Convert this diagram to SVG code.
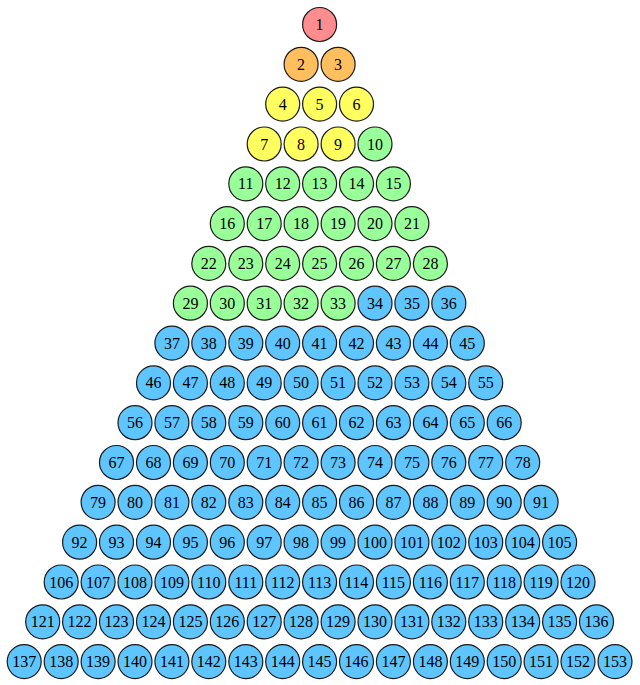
<svg xmlns="http://www.w3.org/2000/svg" width="640" height="685" viewBox="0 0 640 685">
<style>
.n circle{stroke:#1a1a1a;stroke-width:1.2}
.n text{font-family:"Liberation Serif","Times New Roman",serif;font-size:16px;text-anchor:middle;fill:#000}
.r circle{fill:#ff8c8f}
.o circle{fill:#ffbf5f}
.y circle{fill:#ffff5f}
.g circle{fill:#99ff99}
.b circle{fill:#5fc5ff}
</style>
<rect width="640" height="685" fill="#fff"/>
<g id="connectors"/>
<g id="nodes">
<g id="n1" class="n r" transform="translate(319.6,24.5)"><circle r="17"/><text y="5.5">1</text></g>
<g id="n2" class="n o" transform="translate(301.1,64.3)"><circle r="17"/><text y="5.5">2</text></g>
<g id="n3" class="n o" transform="translate(338.1,64.3)"><circle r="17"/><text y="5.5">3</text></g>
<g id="n4" class="n y" transform="translate(282.7,104.1)"><circle r="17"/><text y="5.5">4</text></g>
<g id="n5" class="n y" transform="translate(319.6,104.1)"><circle r="17"/><text y="5.5">5</text></g>
<g id="n6" class="n y" transform="translate(356.5,104.1)"><circle r="17"/><text y="5.5">6</text></g>
<g id="n7" class="n y" transform="translate(264.2,144)"><circle r="17"/><text y="5.5">7</text></g>
<g id="n8" class="n y" transform="translate(301.1,144)"><circle r="17"/><text y="5.5">8</text></g>
<g id="n9" class="n y" transform="translate(338.1,144)"><circle r="17"/><text y="5.5">9</text></g>
<g id="n10" class="n g" transform="translate(375,144)"><circle r="17"/><text y="5.5">10</text></g>
<g id="n11" class="n g" transform="translate(245.8,183.8)"><circle r="17"/><text y="5.5">11</text></g>
<g id="n12" class="n g" transform="translate(282.7,183.8)"><circle r="17"/><text y="5.5">12</text></g>
<g id="n13" class="n g" transform="translate(319.6,183.8)"><circle r="17"/><text y="5.5">13</text></g>
<g id="n14" class="n g" transform="translate(356.5,183.8)"><circle r="17"/><text y="5.5">14</text></g>
<g id="n15" class="n g" transform="translate(393.4,183.8)"><circle r="17"/><text y="5.5">15</text></g>
<g id="n16" class="n g" transform="translate(227.3,223.6)"><circle r="17"/><text y="5.5">16</text></g>
<g id="n17" class="n g" transform="translate(264.2,223.6)"><circle r="17"/><text y="5.5">17</text></g>
<g id="n18" class="n g" transform="translate(301.1,223.6)"><circle r="17"/><text y="5.5">18</text></g>
<g id="n19" class="n g" transform="translate(338.1,223.6)"><circle r="17"/><text y="5.5">19</text></g>
<g id="n20" class="n g" transform="translate(375,223.6)"><circle r="17"/><text y="5.5">20</text></g>
<g id="n21" class="n g" transform="translate(411.9,223.6)"><circle r="17"/><text y="5.5">21</text></g>
<g id="n22" class="n g" transform="translate(208.8,263.4)"><circle r="17"/><text y="5.5">22</text></g>
<g id="n23" class="n g" transform="translate(245.8,263.4)"><circle r="17"/><text y="5.5">23</text></g>
<g id="n24" class="n g" transform="translate(282.7,263.4)"><circle r="17"/><text y="5.5">24</text></g>
<g id="n25" class="n g" transform="translate(319.6,263.4)"><circle r="17"/><text y="5.5">25</text></g>
<g id="n26" class="n g" transform="translate(356.5,263.4)"><circle r="17"/><text y="5.5">26</text></g>
<g id="n27" class="n g" transform="translate(393.4,263.4)"><circle r="17"/><text y="5.5">27</text></g>
<g id="n28" class="n g" transform="translate(430.4,263.4)"><circle r="17"/><text y="5.5">28</text></g>
<g id="n29" class="n g" transform="translate(190.4,303.2)"><circle r="17"/><text y="5.5">29</text></g>
<g id="n30" class="n g" transform="translate(227.3,303.2)"><circle r="17"/><text y="5.5">30</text></g>
<g id="n31" class="n g" transform="translate(264.2,303.2)"><circle r="17"/><text y="5.5">31</text></g>
<g id="n32" class="n g" transform="translate(301.1,303.2)"><circle r="17"/><text y="5.5">32</text></g>
<g id="n33" class="n g" transform="translate(338.1,303.2)"><circle r="17"/><text y="5.5">33</text></g>
<g id="n34" class="n b" transform="translate(375,303.2)"><circle r="17"/><text y="5.5">34</text></g>
<g id="n35" class="n b" transform="translate(411.9,303.2)"><circle r="17"/><text y="5.5">35</text></g>
<g id="n36" class="n b" transform="translate(448.8,303.2)"><circle r="17"/><text y="5.5">36</text></g>
<g id="n37" class="n b" transform="translate(171.9,343.1)"><circle r="17"/><text y="5.5">37</text></g>
<g id="n38" class="n b" transform="translate(208.8,343.1)"><circle r="17"/><text y="5.5">38</text></g>
<g id="n39" class="n b" transform="translate(245.8,343.1)"><circle r="17"/><text y="5.5">39</text></g>
<g id="n40" class="n b" transform="translate(282.7,343.1)"><circle r="17"/><text y="5.5">40</text></g>
<g id="n41" class="n b" transform="translate(319.6,343.1)"><circle r="17"/><text y="5.5">41</text></g>
<g id="n42" class="n b" transform="translate(356.5,343.1)"><circle r="17"/><text y="5.5">42</text></g>
<g id="n43" class="n b" transform="translate(393.4,343.1)"><circle r="17"/><text y="5.5">43</text></g>
<g id="n44" class="n b" transform="translate(430.4,343.1)"><circle r="17"/><text y="5.5">44</text></g>
<g id="n45" class="n b" transform="translate(467.3,343.1)"><circle r="17"/><text y="5.5">45</text></g>
<g id="n46" class="n b" transform="translate(153.5,382.9)"><circle r="17"/><text y="5.5">46</text></g>
<g id="n47" class="n b" transform="translate(190.4,382.9)"><circle r="17"/><text y="5.5">47</text></g>
<g id="n48" class="n b" transform="translate(227.3,382.9)"><circle r="17"/><text y="5.5">48</text></g>
<g id="n49" class="n b" transform="translate(264.2,382.9)"><circle r="17"/><text y="5.5">49</text></g>
<g id="n50" class="n b" transform="translate(301.1,382.9)"><circle r="17"/><text y="5.5">50</text></g>
<g id="n51" class="n b" transform="translate(338.1,382.9)"><circle r="17"/><text y="5.5">51</text></g>
<g id="n52" class="n b" transform="translate(375,382.9)"><circle r="17"/><text y="5.5">52</text></g>
<g id="n53" class="n b" transform="translate(411.9,382.9)"><circle r="17"/><text y="5.5">53</text></g>
<g id="n54" class="n b" transform="translate(448.8,382.9)"><circle r="17"/><text y="5.5">54</text></g>
<g id="n55" class="n b" transform="translate(485.7,382.9)"><circle r="17"/><text y="5.5">55</text></g>
<g id="n56" class="n b" transform="translate(135,422.7)"><circle r="17"/><text y="5.5">56</text></g>
<g id="n57" class="n b" transform="translate(171.9,422.7)"><circle r="17"/><text y="5.5">57</text></g>
<g id="n58" class="n b" transform="translate(208.8,422.7)"><circle r="17"/><text y="5.5">58</text></g>
<g id="n59" class="n b" transform="translate(245.8,422.7)"><circle r="17"/><text y="5.5">59</text></g>
<g id="n60" class="n b" transform="translate(282.7,422.7)"><circle r="17"/><text y="5.5">60</text></g>
<g id="n61" class="n b" transform="translate(319.6,422.7)"><circle r="17"/><text y="5.5">61</text></g>
<g id="n62" class="n b" transform="translate(356.5,422.7)"><circle r="17"/><text y="5.5">62</text></g>
<g id="n63" class="n b" transform="translate(393.4,422.7)"><circle r="17"/><text y="5.5">63</text></g>
<g id="n64" class="n b" transform="translate(430.4,422.7)"><circle r="17"/><text y="5.5">64</text></g>
<g id="n65" class="n b" transform="translate(467.3,422.7)"><circle r="17"/><text y="5.5">65</text></g>
<g id="n66" class="n b" transform="translate(504.2,422.7)"><circle r="17"/><text y="5.5">66</text></g>
<g id="n67" class="n b" transform="translate(116.5,462.5)"><circle r="17"/><text y="5.5">67</text></g>
<g id="n68" class="n b" transform="translate(153.5,462.5)"><circle r="17"/><text y="5.5">68</text></g>
<g id="n69" class="n b" transform="translate(190.4,462.5)"><circle r="17"/><text y="5.5">69</text></g>
<g id="n70" class="n b" transform="translate(227.3,462.5)"><circle r="17"/><text y="5.5">70</text></g>
<g id="n71" class="n b" transform="translate(264.2,462.5)"><circle r="17"/><text y="5.5">71</text></g>
<g id="n72" class="n b" transform="translate(301.1,462.5)"><circle r="17"/><text y="5.5">72</text></g>
<g id="n73" class="n b" transform="translate(338.1,462.5)"><circle r="17"/><text y="5.5">73</text></g>
<g id="n74" class="n b" transform="translate(375,462.5)"><circle r="17"/><text y="5.5">74</text></g>
<g id="n75" class="n b" transform="translate(411.9,462.5)"><circle r="17"/><text y="5.5">75</text></g>
<g id="n76" class="n b" transform="translate(448.8,462.5)"><circle r="17"/><text y="5.5">76</text></g>
<g id="n77" class="n b" transform="translate(485.7,462.5)"><circle r="17"/><text y="5.5">77</text></g>
<g id="n78" class="n b" transform="translate(522.7,462.5)"><circle r="17"/><text y="5.5">78</text></g>
<g id="n79" class="n b" transform="translate(98.1,502.3)"><circle r="17"/><text y="5.5">79</text></g>
<g id="n80" class="n b" transform="translate(135,502.3)"><circle r="17"/><text y="5.5">80</text></g>
<g id="n81" class="n b" transform="translate(171.9,502.3)"><circle r="17"/><text y="5.5">81</text></g>
<g id="n82" class="n b" transform="translate(208.8,502.3)"><circle r="17"/><text y="5.5">82</text></g>
<g id="n83" class="n b" transform="translate(245.8,502.3)"><circle r="17"/><text y="5.5">83</text></g>
<g id="n84" class="n b" transform="translate(282.7,502.3)"><circle r="17"/><text y="5.5">84</text></g>
<g id="n85" class="n b" transform="translate(319.6,502.3)"><circle r="17"/><text y="5.5">85</text></g>
<g id="n86" class="n b" transform="translate(356.5,502.3)"><circle r="17"/><text y="5.5">86</text></g>
<g id="n87" class="n b" transform="translate(393.4,502.3)"><circle r="17"/><text y="5.5">87</text></g>
<g id="n88" class="n b" transform="translate(430.4,502.3)"><circle r="17"/><text y="5.5">88</text></g>
<g id="n89" class="n b" transform="translate(467.3,502.3)"><circle r="17"/><text y="5.5">89</text></g>
<g id="n90" class="n b" transform="translate(504.2,502.3)"><circle r="17"/><text y="5.5">90</text></g>
<g id="n91" class="n b" transform="translate(541.1,502.3)"><circle r="17"/><text y="5.5">91</text></g>
<g id="n92" class="n b" transform="translate(79.6,542.2)"><circle r="17"/><text y="5.5">92</text></g>
<g id="n93" class="n b" transform="translate(116.5,542.2)"><circle r="17"/><text y="5.5">93</text></g>
<g id="n94" class="n b" transform="translate(153.5,542.2)"><circle r="17"/><text y="5.5">94</text></g>
<g id="n95" class="n b" transform="translate(190.4,542.2)"><circle r="17"/><text y="5.5">95</text></g>
<g id="n96" class="n b" transform="translate(227.3,542.2)"><circle r="17"/><text y="5.5">96</text></g>
<g id="n97" class="n b" transform="translate(264.2,542.2)"><circle r="17"/><text y="5.5">97</text></g>
<g id="n98" class="n b" transform="translate(301.1,542.2)"><circle r="17"/><text y="5.5">98</text></g>
<g id="n99" class="n b" transform="translate(338.1,542.2)"><circle r="17"/><text y="5.5">99</text></g>
<g id="n100" class="n b" transform="translate(375,542.2)"><circle r="17"/><text y="5.5">100</text></g>
<g id="n101" class="n b" transform="translate(411.9,542.2)"><circle r="17"/><text y="5.5">101</text></g>
<g id="n102" class="n b" transform="translate(448.8,542.2)"><circle r="17"/><text y="5.5">102</text></g>
<g id="n103" class="n b" transform="translate(485.7,542.2)"><circle r="17"/><text y="5.5">103</text></g>
<g id="n104" class="n b" transform="translate(522.7,542.2)"><circle r="17"/><text y="5.5">104</text></g>
<g id="n105" class="n b" transform="translate(559.6,542.2)"><circle r="17"/><text y="5.5">105</text></g>
<g id="n106" class="n b" transform="translate(61.2,582)"><circle r="17"/><text y="5.5">106</text></g>
<g id="n107" class="n b" transform="translate(98.1,582)"><circle r="17"/><text y="5.5">107</text></g>
<g id="n108" class="n b" transform="translate(135,582)"><circle r="17"/><text y="5.5">108</text></g>
<g id="n109" class="n b" transform="translate(171.9,582)"><circle r="17"/><text y="5.5">109</text></g>
<g id="n110" class="n b" transform="translate(208.8,582)"><circle r="17"/><text y="5.5">110</text></g>
<g id="n111" class="n b" transform="translate(245.8,582)"><circle r="17"/><text y="5.5">111</text></g>
<g id="n112" class="n b" transform="translate(282.7,582)"><circle r="17"/><text y="5.5">112</text></g>
<g id="n113" class="n b" transform="translate(319.6,582)"><circle r="17"/><text y="5.5">113</text></g>
<g id="n114" class="n b" transform="translate(356.5,582)"><circle r="17"/><text y="5.5">114</text></g>
<g id="n115" class="n b" transform="translate(393.4,582)"><circle r="17"/><text y="5.5">115</text></g>
<g id="n116" class="n b" transform="translate(430.4,582)"><circle r="17"/><text y="5.5">116</text></g>
<g id="n117" class="n b" transform="translate(467.3,582)"><circle r="17"/><text y="5.5">117</text></g>
<g id="n118" class="n b" transform="translate(504.2,582)"><circle r="17"/><text y="5.5">118</text></g>
<g id="n119" class="n b" transform="translate(541.1,582)"><circle r="17"/><text y="5.5">119</text></g>
<g id="n120" class="n b" transform="translate(578,582)"><circle r="17"/><text y="5.5">120</text></g>
<g id="n121" class="n b" transform="translate(42.7,621.8)"><circle r="17"/><text y="5.5">121</text></g>
<g id="n122" class="n b" transform="translate(79.6,621.8)"><circle r="17"/><text y="5.5">122</text></g>
<g id="n123" class="n b" transform="translate(116.5,621.8)"><circle r="17"/><text y="5.5">123</text></g>
<g id="n124" class="n b" transform="translate(153.5,621.8)"><circle r="17"/><text y="5.5">124</text></g>
<g id="n125" class="n b" transform="translate(190.4,621.8)"><circle r="17"/><text y="5.5">125</text></g>
<g id="n126" class="n b" transform="translate(227.3,621.8)"><circle r="17"/><text y="5.5">126</text></g>
<g id="n127" class="n b" transform="translate(264.2,621.8)"><circle r="17"/><text y="5.5">127</text></g>
<g id="n128" class="n b" transform="translate(301.1,621.8)"><circle r="17"/><text y="5.5">128</text></g>
<g id="n129" class="n b" transform="translate(338.1,621.8)"><circle r="17"/><text y="5.5">129</text></g>
<g id="n130" class="n b" transform="translate(375,621.8)"><circle r="17"/><text y="5.5">130</text></g>
<g id="n131" class="n b" transform="translate(411.9,621.8)"><circle r="17"/><text y="5.5">131</text></g>
<g id="n132" class="n b" transform="translate(448.8,621.8)"><circle r="17"/><text y="5.5">132</text></g>
<g id="n133" class="n b" transform="translate(485.7,621.8)"><circle r="17"/><text y="5.5">133</text></g>
<g id="n134" class="n b" transform="translate(522.7,621.8)"><circle r="17"/><text y="5.5">134</text></g>
<g id="n135" class="n b" transform="translate(559.6,621.8)"><circle r="17"/><text y="5.5">135</text></g>
<g id="n136" class="n b" transform="translate(596.5,621.8)"><circle r="17"/><text y="5.5">136</text></g>
<g id="n137" class="n b" transform="translate(24.2,661.6)"><circle r="17"/><text y="5.5">137</text></g>
<g id="n138" class="n b" transform="translate(61.2,661.6)"><circle r="17"/><text y="5.5">138</text></g>
<g id="n139" class="n b" transform="translate(98.1,661.6)"><circle r="17"/><text y="5.5">139</text></g>
<g id="n140" class="n b" transform="translate(135,661.6)"><circle r="17"/><text y="5.5">140</text></g>
<g id="n141" class="n b" transform="translate(171.9,661.6)"><circle r="17"/><text y="5.5">141</text></g>
<g id="n142" class="n b" transform="translate(208.8,661.6)"><circle r="17"/><text y="5.5">142</text></g>
<g id="n143" class="n b" transform="translate(245.8,661.6)"><circle r="17"/><text y="5.5">143</text></g>
<g id="n144" class="n b" transform="translate(282.7,661.6)"><circle r="17"/><text y="5.5">144</text></g>
<g id="n145" class="n b" transform="translate(319.6,661.6)"><circle r="17"/><text y="5.5">145</text></g>
<g id="n146" class="n b" transform="translate(356.5,661.6)"><circle r="17"/><text y="5.5">146</text></g>
<g id="n147" class="n b" transform="translate(393.4,661.6)"><circle r="17"/><text y="5.5">147</text></g>
<g id="n148" class="n b" transform="translate(430.4,661.6)"><circle r="17"/><text y="5.5">148</text></g>
<g id="n149" class="n b" transform="translate(467.3,661.6)"><circle r="17"/><text y="5.5">149</text></g>
<g id="n150" class="n b" transform="translate(504.2,661.6)"><circle r="17"/><text y="5.5">150</text></g>
<g id="n151" class="n b" transform="translate(541.1,661.6)"><circle r="17"/><text y="5.5">151</text></g>
<g id="n152" class="n b" transform="translate(578,661.6)"><circle r="17"/><text y="5.5">152</text></g>
<g id="n153" class="n b" transform="translate(615,661.6)"><circle r="17"/><text y="5.5">153</text></g>
</g>
</svg>
